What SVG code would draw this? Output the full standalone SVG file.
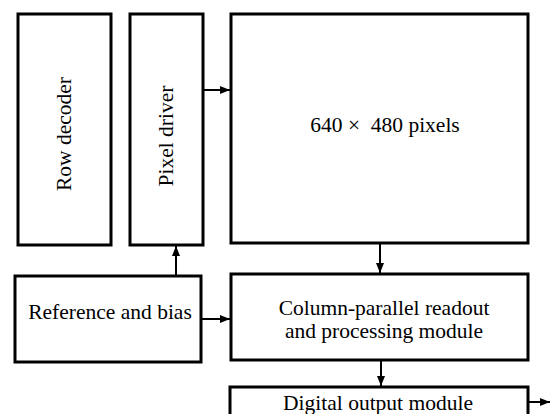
<svg xmlns="http://www.w3.org/2000/svg" width="551" height="414" viewBox="0 0 551 414">
  <style>
    .box { fill: #fff; stroke: #000; stroke-width: 3; }
    .lbl { font-family: "Liberation Serif", "Times New Roman", serif; font-size: 21.5px; fill: #000; text-anchor: middle; }
    .wire { stroke: #000; stroke-width: 2; fill: none; marker-end: url(#head); }
  </style>
  <defs>
    <marker id="head" viewBox="0 0 10 8" refX="10" refY="4" markerWidth="10" markerHeight="8" markerUnits="userSpaceOnUse" orient="auto">
      <path d="M0,0 L10,4 L0,8 Z" fill="#000"/>
    </marker>
  </defs>
  <rect width="551" height="414" fill="#fff"/>

  <g id="row-decoder">
    <rect class="box" x="18" y="14" width="93" height="231"/>
    <text class="lbl" transform="translate(71,134) rotate(-90)">Row decoder</text>
  </g>

  <g id="pixel-driver">
    <rect class="box" x="130" y="14" width="73" height="231"/>
    <text class="lbl" transform="translate(173,136) rotate(-90)">Pixel driver</text>
  </g>

  <g id="pixel-array">
    <rect class="box" x="231" y="14" width="297" height="229"/>
    <text class="lbl" x="385" y="132" xml:space="preserve">640 ×  480 pixels</text>
  </g>

  <g id="reference-bias">
    <rect class="box" x="15" y="276" width="186" height="86"/>
    <text class="lbl" x="110" y="319">Reference and bias</text>
  </g>

  <g id="readout">
    <rect class="box" x="231" y="274" width="297" height="86"/>
    <text class="lbl" x="384" y="315">Column-parallel readout</text>
    <text class="lbl" x="384" y="338">and processing module</text>
  </g>

  <g id="digital-output">
    <rect class="box" x="230" y="387" width="298" height="40"/>
    <text class="lbl" x="378" y="410">Digital output module</text>
  </g>

  <g id="connectors">
    <line class="wire" x1="203" y1="90" x2="230" y2="90"/>
    <line class="wire" x1="176" y1="276" x2="176" y2="246"/>
    <line class="wire" x1="201" y1="319" x2="230" y2="319"/>
    <line class="wire" x1="380" y1="244" x2="380" y2="273"/>
    <line class="wire" x1="381" y1="361" x2="381" y2="386"/>
    <line class="wire" x1="529" y1="402" x2="550" y2="402"/>
  </g>
</svg>
